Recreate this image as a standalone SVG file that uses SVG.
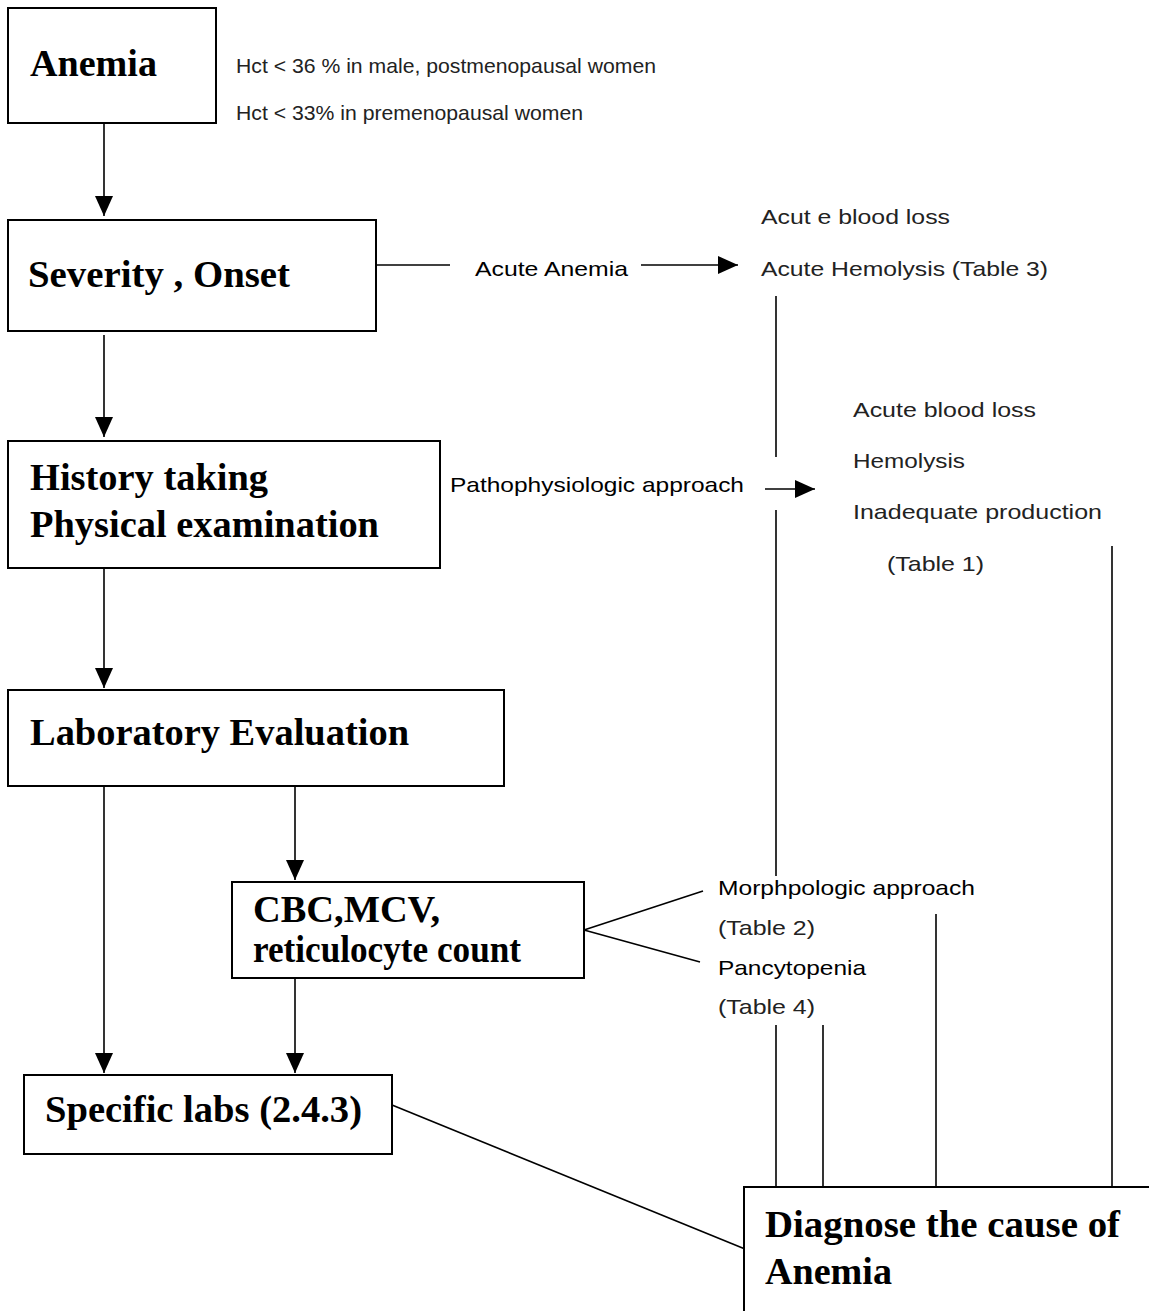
<svg xmlns="http://www.w3.org/2000/svg" width="1149" height="1311" viewBox="0 0 1149 1311">
<style>
.box{fill:#fff;stroke:#000;stroke-width:2}
.t{font-family:"Liberation Serif","Times New Roman",serif;font-weight:bold;font-size:38px;fill:#000}
.s{font-family:"Liberation Sans",Arial,sans-serif;font-size:21px;fill:#222}
.k{font-family:"Liberation Sans",Arial,sans-serif;font-size:21px;fill:#000}
.c{stroke:#000;stroke-width:1.6;fill:none}
</style>
<defs>
<marker id="ah" markerUnits="userSpaceOnUse" markerWidth="20" markerHeight="18" refX="20" refY="9" orient="auto">
<path d="M0,0 L20,9 L0,18 z" fill="#000"/>
</marker>
</defs>
<rect width="1149" height="1311" fill="#fff"/>
<g id="connectors">
<line class="c" x1="104" y1="123" x2="104" y2="216" marker-end="url(#ah)"/>
<line class="c" x1="104" y1="335" x2="104" y2="437" marker-end="url(#ah)"/>
<line class="c" x1="104" y1="568" x2="104" y2="688" marker-end="url(#ah)"/>
<line class="c" x1="104" y1="786" x2="104" y2="1073" marker-end="url(#ah)"/>
<line class="c" x1="295" y1="786" x2="295" y2="880" marker-end="url(#ah)"/>
<line class="c" x1="295" y1="978" x2="295" y2="1073" marker-end="url(#ah)"/>
<line class="c" x1="376" y1="265" x2="450" y2="265"/>
<line class="c" x1="641" y1="265" x2="738" y2="265" marker-end="url(#ah)"/>
<line class="c" x1="765" y1="489" x2="815" y2="489" marker-end="url(#ah)"/>
<line class="c" x1="776" y1="296" x2="776" y2="457"/>
<line class="c" x1="776" y1="510" x2="776" y2="876"/>
<line class="c" x1="1112" y1="546" x2="1112" y2="1187"/>
<line class="c" x1="936" y1="914" x2="936" y2="1187"/>
<line class="c" x1="776" y1="1025" x2="776" y2="1187"/>
<line class="c" x1="823" y1="1025" x2="823" y2="1187"/>
<line class="c" x1="584" y1="930" x2="703" y2="891"/>
<line class="c" x1="584" y1="930" x2="700" y2="962"/>
<line class="c" x1="392" y1="1105" x2="745" y2="1249"/>
</g>
<g id="anemia">
<rect class="box" x="8" y="8" width="208" height="115"/>
<text class="t" x="30" y="76" textLength="127" lengthAdjust="spacingAndGlyphs">Anemia</text>
</g>
<g id="hct-notes">
<text class="s" x="236" y="73" textLength="420" lengthAdjust="spacingAndGlyphs">Hct &lt; 36 % in male, postmenopausal women</text>
<text class="s" x="236" y="120" textLength="347" lengthAdjust="spacingAndGlyphs">Hct &lt; 33% in premenopausal women</text>
</g>
<g id="severity">
<rect class="box" x="8" y="220" width="368" height="111"/>
<text class="t" x="28" y="287" textLength="262" lengthAdjust="spacingAndGlyphs">Severity , Onset</text>
</g>
<g id="acute-anemia">
<text class="k" x="475" y="276" textLength="153" lengthAdjust="spacingAndGlyphs">Acute Anemia</text>
</g>
<g id="acute-causes">
<text class="s" x="761" y="224" textLength="189" lengthAdjust="spacingAndGlyphs">Acut e blood loss</text>
<text class="s" x="761" y="276" textLength="287" lengthAdjust="spacingAndGlyphs">Acute Hemolysis (Table 3)</text>
</g>
<g id="history">
<rect class="box" x="8" y="441" width="432" height="127"/>
<text class="t" x="30" y="490" textLength="238" lengthAdjust="spacingAndGlyphs">History taking</text>
<text class="t" x="30" y="537" textLength="349" lengthAdjust="spacingAndGlyphs">Physical examination</text>
</g>
<g id="patho">
<text class="k" x="450" y="492" textLength="294" lengthAdjust="spacingAndGlyphs">Pathophysiologic approach</text>
</g>
<g id="patho-causes">
<text class="s" x="853" y="417" textLength="183" lengthAdjust="spacingAndGlyphs">Acute blood loss</text>
<text class="s" x="853" y="468" textLength="112" lengthAdjust="spacingAndGlyphs">Hemolysis</text>
<text class="s" x="853" y="519" textLength="249" lengthAdjust="spacingAndGlyphs">Inadequate production</text>
<text class="s" x="887" y="571" textLength="97" lengthAdjust="spacingAndGlyphs">(Table 1)</text>
</g>
<g id="lab">
<rect class="box" x="8" y="690" width="496" height="96"/>
<text class="t" x="30" y="745" textLength="379" lengthAdjust="spacingAndGlyphs">Laboratory Evaluation</text>
</g>
<g id="cbc">
<rect class="box" x="232" y="882" width="352" height="96"/>
<text class="t" x="253" y="922" textLength="187" lengthAdjust="spacingAndGlyphs">CBC,MCV,</text>
<text class="t" x="253" y="962" textLength="268" lengthAdjust="spacingAndGlyphs">reticulocyte count</text>
</g>
<g id="morph">
<text class="k" x="718" y="895" textLength="257" lengthAdjust="spacingAndGlyphs">Morphpologic approach</text>
<text class="s" x="718" y="935" textLength="97" lengthAdjust="spacingAndGlyphs">(Table 2)</text>
</g>
<g id="pancy">
<text class="k" x="718" y="975" textLength="148" lengthAdjust="spacingAndGlyphs">Pancytopenia</text>
<text class="s" x="718" y="1014" textLength="97" lengthAdjust="spacingAndGlyphs">(Table 4)</text>
</g>
<g id="specific">
<rect class="box" x="24" y="1075" width="368" height="79"/>
<text class="t" x="45" y="1122" textLength="317" lengthAdjust="spacingAndGlyphs">Specific labs (2.4.3)</text>
</g>
<g id="diagnose">
<rect class="box" x="744" y="1187" width="420" height="140"/>
<text class="t" x="765" y="1237" textLength="355" lengthAdjust="spacingAndGlyphs">Diagnose the cause of</text>
<text class="t" x="765" y="1284" textLength="127" lengthAdjust="spacingAndGlyphs">Anemia</text>
</g>
</svg>
